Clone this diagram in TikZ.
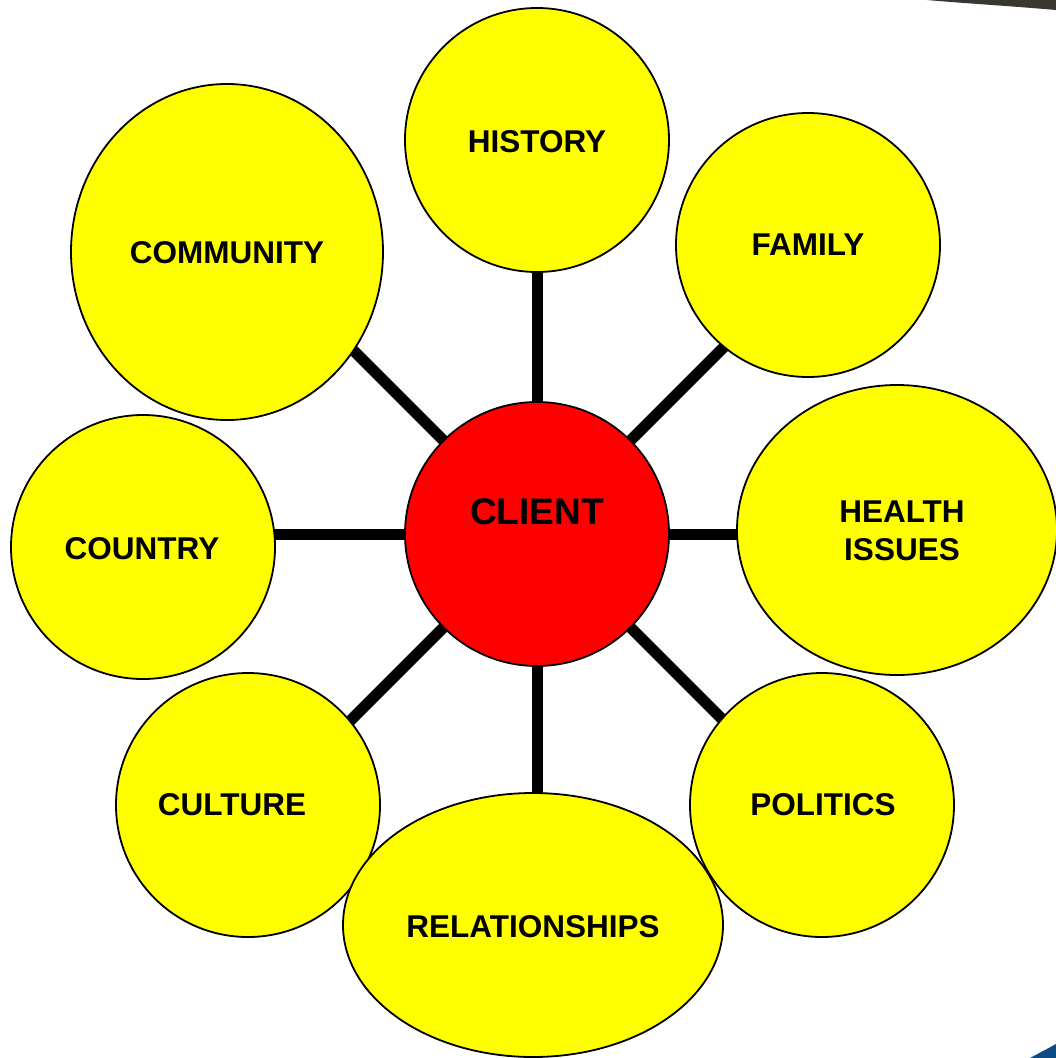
\documentclass[tikz,border=0pt]{standalone}
\usepackage{fontspec}
\setmainfont{Liberation Sans}
\usetikzlibrary{shapes.geometric,backgrounds}
\definecolor{bubble}{HTML}{FFFF00}
\definecolor{core}{HTML}{FF0000}
\definecolor{navyb}{HTML}{0D4A86}
\definecolor{darkb}{HTML}{3A3632}
\tikzset{
  bub/.style={ellipse, draw=black, line width=1.8pt, fill=bubble, inner sep=0pt},
  corebub/.style={bub, fill=core},
  lbl/.style={inner sep=0pt, font=\bfseries\fontsize{31.5}{38}\selectfont, align=center, anchor=center},
  corelbl/.style={lbl, font=\bfseries\fontsize{37}{44}\selectfont},
  spoke/.style={line width=11pt, black}
}
\begin{document}
\begin{tikzpicture}[x=1pt,y=-1pt]
\useasboundingbox (0,0) rectangle (1056,1058);
\begin{scope}[on background layer]
\fill[white] (0,0) rectangle (1056,1058);
% background fragments
\fill[darkb] (927,0) -- (1056,0) -- (1056,10) .. controls (1010,6) and (960,3) .. (927,0) -- cycle;
\fill[navyb] (1030,1058) -- (1056,1044) -- (1056,1058) -- cycle;
\end{scope}
% bubbles
\node[corebub, minimum width=264pt, minimum height=264pt] (client) at (537,534) {};
\node[bub, minimum width=264pt, minimum height=264pt] (history) at (537,140) {};
\node[bub, minimum width=264pt, minimum height=264pt] (family) at (808,245) {};
\node[bub, minimum width=312pt, minimum height=336pt] (community) at (227,252) {};
\node[bub, minimum width=264pt, minimum height=264pt] (country) at (143,547) {};
\node[bub, minimum width=320pt, minimum height=290pt] (health) at (897,530) {};
\node[bub, minimum width=264pt, minimum height=264pt] (culture) at (248,805) {};
\node[bub, minimum width=264pt, minimum height=264pt] (politics) at (822,805) {};
\node[bub, minimum width=380pt, minimum height=264pt] (relations) at (533,925) {};
% labels
\node[corelbl] (tclient) at (537,512) {CLIENT};
\node[lbl] (thistory) at (537,142) {HISTORY};
\node[lbl] (tfamily) at (808,245) {FAMILY};
\node[lbl] (tcommunity) at (227,253) {COMMUNITY};
\node[lbl] (tcountry) at (142,549) {COUNTRY};
\node[lbl] (thealth) at (902,531) {HEALTH\\ISSUES};
\node[lbl] (tculture) at (232,805) {CULTURE};
\node[lbl] (tpolitics) at (823,805) {POLITICS};
\node[lbl] (trelations) at (533,927) {RELATIONSHIPS};
% spoke ends (hidden under the outer bubbles)
\coordinate (eN) at (537,254);
\coordinate (eNE) at (735,336);
\coordinate (eE) at (817,534);
\coordinate (eSE) at (735,732);
\coordinate (eS) at (537,814);
\coordinate (eSW) at (339,732);
\coordinate (eW) at (257,534);
\coordinate (eNW) at (339,336);
\begin{scope}[on background layer]
\foreach \e in {eN,eNE,eE,eSE,eS,eSW,eW,eNW}
  \draw[spoke] (client.center) -- (\e);
\end{scope}
\end{tikzpicture}
\end{document}
